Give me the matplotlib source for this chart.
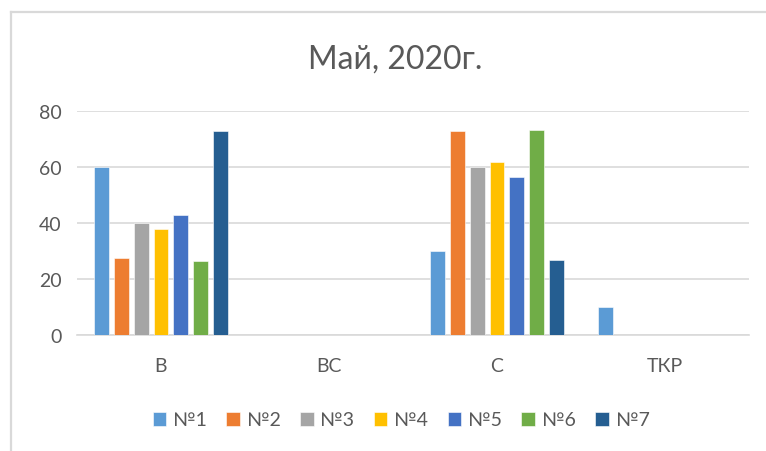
import matplotlib
matplotlib.use("Agg")
import matplotlib.pyplot as plt
import numpy as np
from matplotlib.lines import Line2D

categories = ["В", "ВС", "С", "ТКР"]
series_names = ["№1", "№2", "№3", "№4", "№5", "№6", "№7"]
s1 = [60, 0, 30, 10]
s2 = [27.5, 0, 72.8, 0]
s3 = [40, 0, 60, 0]
s4 = [38, 0, 61.8, 0]
s5 = [43, 0, 56.6, 0]
s6 = [26.5, 0, 73.2, 0]
s7 = [73, 0, 26.7, 0]
series = [s1, s2, s3, s4, s5, s6, s7]
colors = ["#5B9BD5", "#ED7D31", "#A5A5A5", "#FFC000", "#4472C4", "#70AD47", "#255E91"]
yticks = [0, 20, 40, 60, 80]
title = "Май, 2020г."

plt.rcParams['font.family'] = ['Lato', 'DejaVu Sans']
txt = "#595959"

fig = plt.figure(figsize=(7.66, 4.52), dpi=100)
ax = fig.add_axes([77/766, 1-335.7/452, (749-77)/766, (335.7-112.3)/452])

x = np.arange(len(categories))
pitch = 0.1185
width = 0.089
for i, (vals, c, name) in enumerate(zip(series, colors, series_names)):
    ax.bar(x + (i - 3) * pitch, vals, width, color=c, label=name,
           edgecolor="white", linewidth=0.4, zorder=3)

ax.set_xlim(-0.5, len(categories) - 0.5)
ax.set_ylim(0, 80)
ax.set_yticks(yticks)
ax.set_xticks(x)
ax.set_xticklabels(categories)
ax.grid(axis="y", color="#D9D9D9", linewidth=1.2, zorder=0)
for s in ["top", "right", "left"]:
    ax.spines[s].set_visible(False)
ax.spines["bottom"].set_color("#D9D9D9")
ax.spines["bottom"].set_linewidth(1.2)
ax.tick_params(axis="both", length=0, labelsize=14, colors=txt)
ax.tick_params(axis="y", pad=11)
ax.tick_params(axis="x", pad=16)

fig.text(395/766, 1-60/452, title, ha="center", va="center", fontsize=23, color=txt)

leg = fig.legend(loc="center", bbox_to_anchor=(401/766, 1-421/452), ncol=7, frameon=False,
                 fontsize=14, handlelength=0.7, handleheight=0.7, handletextpad=0.35,
                 columnspacing=1.0, labelcolor=txt)

fig.add_artist(Line2D([11/766, 11/766], [0, 1-13/452], color="#D9D9D9", linewidth=1.6, transform=fig.transFigure))
fig.add_artist(Line2D([11/766, 1], [1-13/452, 1-13/452], color="#D9D9D9", linewidth=1.6, transform=fig.transFigure))

fig.savefig("out.png", dpi=100)
